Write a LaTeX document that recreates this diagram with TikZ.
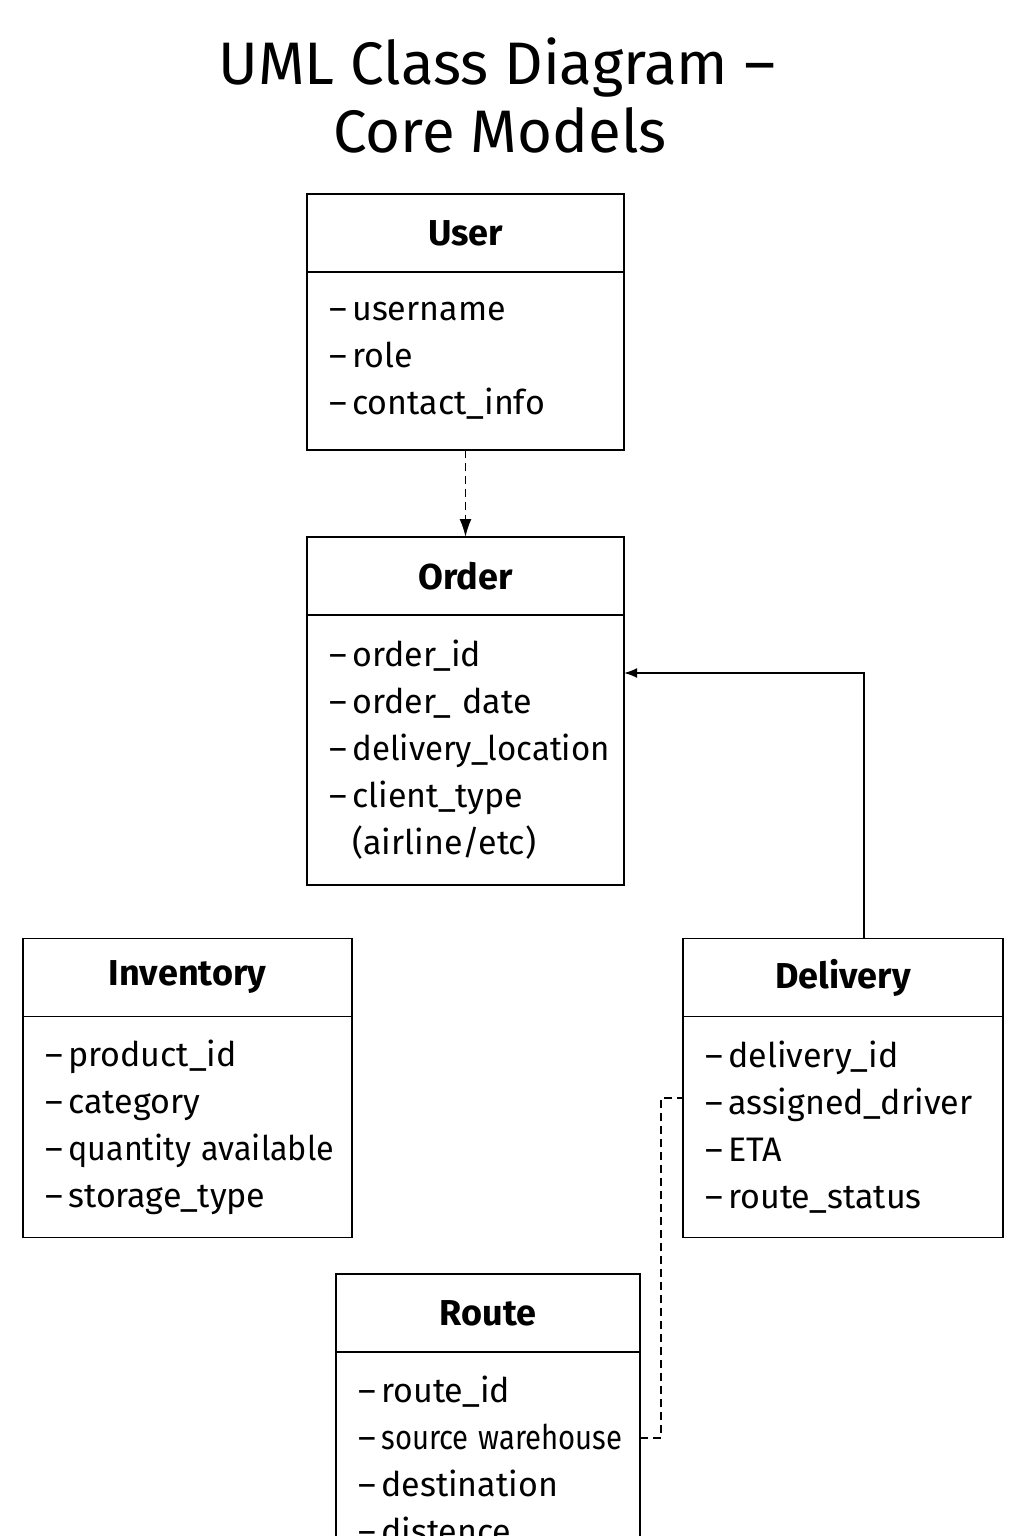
\documentclass[tikz,border=0pt]{standalone}
\usepackage{fontspec}
\setmainfont{Fira Sans}
\usetikzlibrary{positioning,arrows.meta}
\newcommand\att[1]{\mbox{–\,#1}}
\begin{document}
\begin{tikzpicture}[x=1pt,y=-1pt,
 box/.style={draw,line width=1.8pt,inner sep=0pt,outer sep=0pt},
 head/.style={box,minimum height=78pt,font=\fontsize{36}{40}\selectfont\bfseries},
 attr/.style={box,align=left,inner xsep=22pt,font=\fontsize{34}{47}\selectfont},
 link/.style={line width=1.8pt,-{Latex[length=13pt,width=10pt]}},
 dashline/.style={line width=1.8pt,dash pattern=on 8pt off 5pt}]
 \fill[white] (0,0) rectangle (1024,1536);
 \useasboundingbox (0,0) rectangle (1024,1536);
 % title
 \node[anchor=base,font=\fontsize{60}{68}\selectfont] (title) at (497,85) {UML Class Diagram –};
 \node[anchor=base,font=\fontsize{60}{68}\selectfont] (title2) at (500,153) {Core Models};
 % classes
 \node[head,minimum width=317pt] (user) at (465.5,233) {User};
 \node[attr,text width=273pt,minimum height=178pt,below=0pt of user] (user-attr)
  {\att{username}\\\att{role}\\\att{contact\_info}};
 \node[head,minimum width=317pt] (order) at (465.5,576) {Order};
 \node[attr,text width=273pt,minimum height=270pt,below=0pt of order] (order-attr)
  {\att{order\_id}\\\att{order\_ date}\\\att{\scalebox{0.97}[1]{delivery\_location}}\\\att{client\_type}\\\mbox{\phantom{–\,}(airline/etc)}};
 \node[head,minimum width=329pt] (inventory) at (187.5,977.5) {Inventory};
 \node[attr,text width=285pt,minimum height=221pt,below=0pt of inventory] (inventory-attr)
  {\att{product\_id}\\\att{category}\\\att{\scalebox{0.95}[1]{quantity available}}\\\att{storage\_type}};
 \node[head,minimum width=320pt] (delivery) at (843,977.5) {Delivery};
 \node[attr,text width=276pt,minimum height=221pt,below=0pt of delivery] (delivery-attr)
  {\att{delivery\_id}\\\att{assigned\_driver}\\\att{ETA}\\\att{route\_status}};
 \node[head,minimum width=304pt] (route) at (488,1313) {Route};
 \node[attr,text width=260pt,minimum height=216pt,below=0pt of route] (route-attr)
  {\att{route\_id}\\\att{\scalebox{0.86}[1]{source warehouse}}\\\att{destination}\\\att{distence}};
 % connectors
 \draw[link,-{Latex[length=18pt,width=12pt]},dash pattern=on 8pt off 5pt] (user-attr.south) -- (order.north);
 \draw[link] ([xshift=21pt]delivery.north) |- (order-attr.east |- 0,673);
 \draw[dashline] (route-attr.east |- 0,1438) -- ++(21,0) |- (delivery-attr.west |- 0,1098);
\end{tikzpicture}
\end{document}
